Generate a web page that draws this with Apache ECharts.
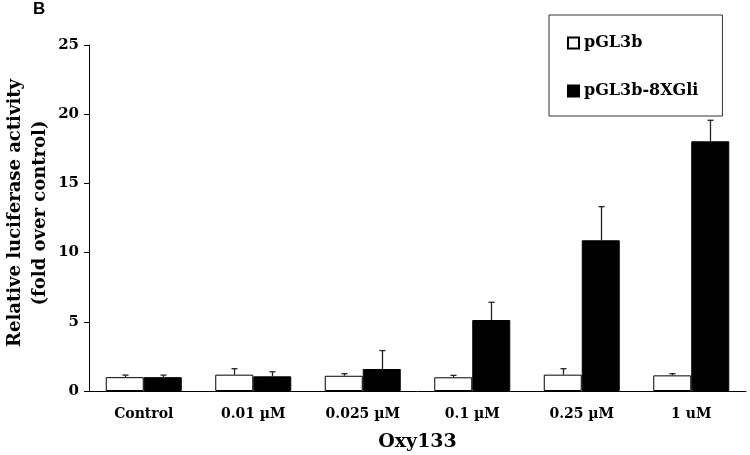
<!DOCTYPE html>
<html>
<head>
<meta charset="utf-8">
<script src="https://cdn.jsdelivr.net/npm/echarts@6/dist/echarts.min.js"></script>
<style>html,body{margin:0;padding:0;background:#fff}#c{width:750px;height:455px}</style>
</head>
<body>
<div id="c"></div>
<script>
var categories = ['Control', '0.01 \u00b5M', '0.025 \u00b5M', '0.1 \u00b5M', '0.25 \u00b5M', '1 uM'];
var seriesNames = ['pGL3b', 'pGL3b-8XGli'];
var pGL3b = [1.0, 1.18, 1.1, 0.99, 1.18, 1.13];
var pGL3bErr = [0.15, 0.43, 0.15, 0.14, 0.43, 0.12];
var gli = [1.0, 1.06, 1.59, 5.13, 10.89, 18.04];
var gliErr = [0.15, 0.33, 1.33, 1.28, 2.43, 1.52];
var yTicks = [0, 5, 10, 15, 20, 25];

var FONT = '"DejaVu Serif", serif';
var chart = echarts.init(document.getElementById('c'));

function errSeries(vals, errs, side) {
  return {
    type: 'custom',
    z: 5,
    silent: true,
    data: vals.map(function (v, i) { return [i, v, v + errs[i]]; }),
    renderItem: function (params, api) {
      var base = api.coord([api.value(0), api.value(1)]);
      var top = api.coord([api.value(0), api.value(2)]);
      var x = Math.round(base[0] + side * 19) + 0.5;
      var style = { stroke: '#222', lineWidth: 1.3 };
      return {
        type: 'group',
        children: [
          { type: 'line', shape: { x1: x, y1: base[1], x2: x, y2: top[1] }, style: style },
          { type: 'line', shape: { x1: x - 3, y1: top[1], x2: x + 3, y2: top[1] }, style: style }
        ]
      };
    }
  };
}

chart.setOption({
  animation: false,
  backgroundColor: '#fff',
  grid: { left: 89, right: 4, top: 45, bottom: 64, outerBoundsMode: 'none', containLabel: false },
  legend: {
    orient: 'vertical',
    left: 549,
    top: 15,
    padding: [20, 24, 17, 18],
    itemGap: 32,
    itemWidth: 11,
    itemHeight: 11,
    borderColor: '#333',
    borderWidth: 1,
    icon: 'rect',
    textStyle: { fontFamily: FONT, fontWeight: 'bold', fontSize: 16, color: '#000', padding: [0, 0, 0, 0] },
    data: seriesNames
  },
  xAxis: {
    type: 'category',
    data: categories,
    axisLine: { lineStyle: { color: '#000', width: 1 } },
    axisTick: { show: false },
    axisLabel: { fontFamily: FONT, fontWeight: 'bold', fontSize: 14, color: '#000', margin: 16 },
    name: 'Oxy133',
    nameLocation: 'middle',
    nameGap: 42,
    nameTextStyle: { fontFamily: FONT, fontWeight: 'bold', fontSize: 19, color: '#000' }
  },
  yAxis: {
    type: 'value',
    min: yTicks[0],
    max: yTicks[yTicks.length - 1],
    interval: 5,
    splitLine: { show: false },
    axisLine: { show: true, lineStyle: { color: '#000', width: 1 } },
    axisTick: { show: true, length: 5, lineStyle: { color: '#000' } },
    axisLabel: { fontFamily: FONT, fontWeight: 'bold', fontSize: 15, color: '#000', margin: 10 }
  },
  graphic: [
    { type: 'text', left: 33, top: 1, style: { text: 'B', font: 'bold 17px "Liberation Sans", Arial, sans-serif', fill: '#000' } },
    { type: 'text', x: 15, y: 213, rotation: Math.PI / 2, style: { text: 'Relative luciferase activity', font: 'bold 18px ' + FONT, fill: '#000', align: 'center', verticalAlign: 'middle' } },
    { type: 'text', x: 40, y: 213, rotation: Math.PI / 2, style: { text: '(fold over control)', font: 'bold 18px ' + FONT, fill: '#000', align: 'center', verticalAlign: 'middle' } }
  ],
  series: [
    {
      name: seriesNames[0], type: 'bar', data: pGL3b, barWidth: 38, barGap: '0%',
      itemStyle: { color: '#fff', borderColor: '#000', borderWidth: 1 }
    },
    {
      name: seriesNames[1], type: 'bar', data: gli, barWidth: 38, barGap: '0%',
      itemStyle: { color: '#000', borderColor: '#000', borderWidth: 1 }
    },
    errSeries(pGL3b, pGL3bErr, -1),
    errSeries(gli, gliErr, 1)
  ]
});
</script>
</body>
</html>
